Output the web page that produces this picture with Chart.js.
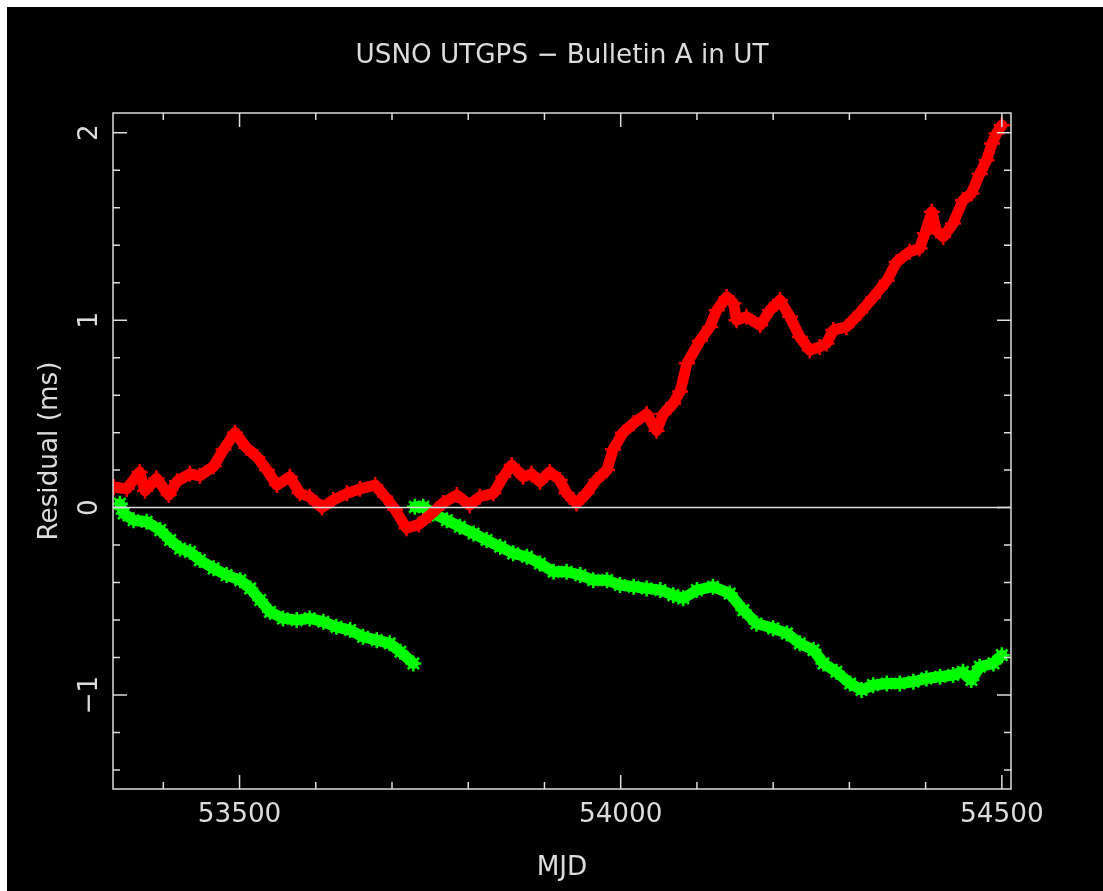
<!DOCTYPE html>
<html>
<head>
<meta charset="utf-8">
<title>USNO UTGPS - Bulletin A in UT</title>
<script src="https://cdn.jsdelivr.net/npm/chart.js@4/dist/chart.umd.min.js"></script>
<style>
  html, body { margin: 0; padding: 0; background: #fff; }
  canvas { display: block; }
</style>
</head>
<body>
<canvas id="chart" width="1103" height="891"></canvas>
<script>
// texts
const titleText = 'USNO UTGPS \u2212 Bulletin A in UT';
const xTitle = 'MJD';
const yTitle = 'Residual (ms)';

// axis ticks
const xMajorTicks = [53500, 54000, 54500];
const xMinorTicks = [53400, 53600, 53700, 53800, 53900, 54100, 54200, 54300, 54400];
const yMajorTicks = [-1, 0, 1, 2];
const yMinorTicks = [-1.4, -1.2, -0.8, -0.6, -0.4, -0.2, 0.2, 0.4, 0.6, 0.8, 1.2, 1.4, 1.6, 1.8];

// red series (+)
const redMjd = [53335, 53352, 53369, 53376, 53391, 53407, 53418, 53435, 53448, 53466,
  53479, 53494, 53509, 53523, 53536, 53549, 53566, 53579, 53592, 53608,
  53623, 53641, 53658, 53678, 53691, 53704, 53719, 53735, 53750, 53767,
  53785, 53802, 53815, 53833, 53846, 53857, 53872, 53883, 53894, 53907,
  53920, 53929, 53942, 53955, 53968, 53982, 53990, 54003, 54017, 54034,
  54047, 54056, 54069, 54078, 54087, 54104, 54117, 54126, 54139, 54148,
  54152, 54165, 54183, 54196, 54209, 54222, 54235, 54248, 54261, 54270,
  54279, 54296, 54314, 54331, 54349, 54362, 54379, 54392, 54399, 54408,
  54414, 54423, 54436, 54449, 54460, 54471, 54480, 54487, 54493, 54500];
const redRes = [0.11, 0.10, 0.19, 0.09, 0.156, 0.067, 0.14, 0.18, 0.17, 0.22,
  0.31, 0.40, 0.32, 0.27, 0.20, 0.12, 0.164, 0.076, 0.058, 0.0,
  0.04, 0.076, 0.10, 0.12, 0.058, -0.01, -0.11, -0.09, -0.04, 0.025,
  0.067, 0.013, 0.058, 0.076, 0.164, 0.227, 0.164, 0.18, 0.138, 0.19,
  0.147, 0.076, 0.022, 0.076, 0.147, 0.20, 0.31, 0.40, 0.45, 0.50,
  0.41, 0.50, 0.556, 0.62, 0.77, 0.89, 0.964, 1.053, 1.124, 1.09,
  1.0, 1.018, 0.973, 1.053, 1.107, 1.018, 0.91, 0.84, 0.857, 0.876,
  0.947, 0.964, 1.04, 1.12, 1.21, 1.31, 1.365, 1.382, 1.462, 1.578,
  1.48, 1.444, 1.516, 1.64, 1.676, 1.78, 1.853, 1.942, 1.996, 2.04];

// green series (*), null marks the break between the two runs
const greenMjd = [53343, 53348, 53361, 53378, 53396, 53409, 53422, 53435, 53448, 53466,
  53483, 53501, 53514, 53527, 53540, 53557, 53575, 53592, 53610, 53627,
  53645, 53662, 53680, 53697, 53711, 53728, 53729, 53730, 53741, 53754,
  53772, 53789, 53807, 53824, 53842, 53859, 53877, 53894, 53912, 53929,
  53947, 53964, 53982, 53999, 54017, 54034, 54052, 54069, 54082, 54100,
  54121, 54143, 54161, 54178, 54200, 54218, 54235, 54253, 54266, 54283,
  54301, 54316, 54331, 54349, 54366, 54384, 54401, 54419, 54436, 54449,
  54460, 54471, 54489, 54500];
const greenRes = [0.02, -0.031, -0.067, -0.075, -0.12, -0.173, -0.218, -0.236, -0.28, -0.324,
  -0.36, -0.387, -0.431, -0.493, -0.556, -0.591, -0.60, -0.591, -0.609, -0.636,
  -0.653, -0.689, -0.707, -0.724, -0.769, -0.831, null, 0.004, 0.004, -0.031,
  -0.067, -0.102, -0.138, -0.173, -0.209, -0.244, -0.262, -0.298, -0.342, -0.342,
  -0.36, -0.387, -0.387, -0.413, -0.422, -0.431, -0.44, -0.467, -0.484, -0.44,
  -0.422, -0.458, -0.547, -0.618, -0.644, -0.671, -0.724, -0.76, -0.831, -0.876,
  -0.938, -0.973, -0.947, -0.938, -0.938, -0.929, -0.911, -0.902, -0.893, -0.876,
  -0.92, -0.849, -0.831, -0.787];

const RED = '#ff0000';
const GREEN = '#00ff00';
const INK = '#dcdcdc';
const FONT = '27px "DejaVu Sans Condensed", "Liberation Sans Narrow", "DejaVu Sans", sans-serif';
const TITLE_WIDTH = 413; // title width in the original plot, used to fit the font

const pts = (xs, ys) => xs.map((x, i) => ({ x: x, y: ys[i] }));

let squeeze = 1;

function text(c, str, px, py, rot) {
  c.save();
  c.translate(px, py);
  if (rot) c.rotate(rot);
  c.scale(squeeze, 1);
  c.fillText(str, 0, 0);
  c.restore();
}

const pgFrame = {
  id: 'pgFrame',
  beforeDraw(chart) {
    const c = chart.ctx;
    c.save();
    c.fillStyle = '#ffffff';
    c.fillRect(0, 0, chart.width, chart.height);
    c.fillStyle = '#000000';
    c.fillRect(7, 7, chart.width - 7, chart.height - 7);
    c.restore();
  },
  afterDatasetsDraw(chart) {
    const c = chart.ctx;
    const a = chart.chartArea;
    const x = chart.scales.x, y = chart.scales.y;
    c.save();
    c.strokeStyle = INK;
    c.lineWidth = 1.5;

    // zero line
    const y0 = y.getPixelForValue(0);
    c.beginPath();
    c.moveTo(a.left, y0); c.lineTo(a.right, y0);
    c.stroke();

    c.strokeRect(a.left, a.top, a.right - a.left, a.bottom - a.top);

    c.beginPath();
    const xt = (v, len) => {
      const p = x.getPixelForValue(v);
      c.moveTo(p, a.bottom); c.lineTo(p, a.bottom - len);
      c.moveTo(p, a.top); c.lineTo(p, a.top + len);
    };
    const yt = (v, len) => {
      const p = y.getPixelForValue(v);
      c.moveTo(a.left, p); c.lineTo(a.left + len, p);
      c.moveTo(a.right, p); c.lineTo(a.right - len, p);
    };
    xMajorTicks.forEach(v => xt(v, 14));
    xMinorTicks.forEach(v => xt(v, 7));
    yMajorTicks.forEach(v => yt(v, 14));
    yMinorTicks.forEach(v => yt(v, 7));
    c.stroke();

    // labels
    c.font = FONT;
    c.fillStyle = INK;
    c.textAlign = 'center';
    c.textBaseline = 'alphabetic';
    squeeze = TITLE_WIDTH / c.measureText(titleText).width;
    const cx = (a.left + a.right) / 2;
    const cy = (a.top + a.bottom) / 2;
    text(c, titleText, cx, 63);
    xMajorTicks.forEach(v => text(c, String(v), x.getPixelForValue(v), 822));
    text(c, xTitle, cx, 875);
    yMajorTicks.forEach(v => {
      const lab = v < 0 ? '\u2212' + Math.abs(v) : String(v);
      text(c, lab, 97, y.getPixelForValue(v), -Math.PI / 2);
    });
    text(c, yTitle, 57, cy, -Math.PI / 2);
    c.restore();
  }
};

new Chart(document.getElementById('chart'), {
  type: 'scatter',
  data: {
    datasets: [
      {
        label: 'UTGPS',
        data: pts(redMjd, redRes),
        showLine: true,
        borderColor: RED,
        backgroundColor: RED,
        borderWidth: 11,
        borderJoinStyle: 'round',
        borderCapStyle: 'round',
        pointStyle: 'cross',
        pointRadius: 8,
        pointBorderWidth: 2.5,
        pointBorderColor: RED
      },
      {
        label: 'Bulletin A',
        data: pts(greenMjd, greenRes),
        showLine: true,
        spanGaps: false,
        borderColor: GREEN,
        backgroundColor: GREEN,
        borderWidth: 11,
        borderJoinStyle: 'round',
        borderCapStyle: 'round',
        pointStyle: 'star',
        pointRadius: 8,
        pointBorderWidth: 2.5,
        pointBorderColor: GREEN
      }
    ]
  },
  options: {
    responsive: false,
    animation: false,
    devicePixelRatio: 1,
    layout: { padding: { left: 113, right: 92, top: 113, bottom: 102 } },
    scales: {
      x: { type: 'linear', min: 53334, max: 54512, display: false },
      y: { type: 'linear', min: -1.501, max: 2.105, display: false }
    },
    plugins: {
      legend: { display: false },
      tooltip: { enabled: false }
    }
  },
  plugins: [pgFrame]
});
</script>
</body>
</html>
